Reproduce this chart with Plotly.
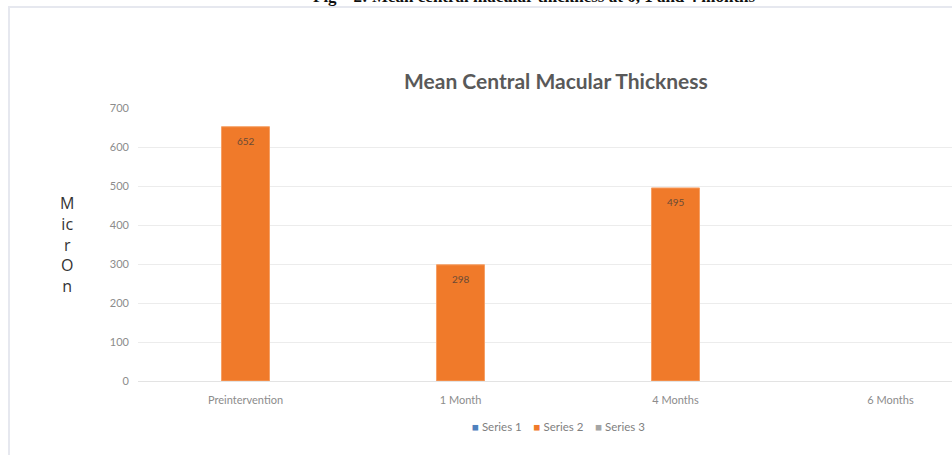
import plotly.graph_objects as go

categories = ["Preintervention", "1 Month", "4 Months", "6 Months"]
series_names = ["Series 1", "Series 2", "Series 3"]
series_colors = ["#4F81BD", "#F07A2A", "#A5A5A5"]
series1 = [None, None, None, None]
series2 = [652, 298, 495, None]
series3 = [None, None, None, None]
y_ticks = [0, 100, 200, 300, 400, 500, 600, 700]

L, R, T, B = 138, 0, 108, 74
W, H = 952, 455
pw, ph = W - L - R, H - T - B

def px_x(px):
    return (px - L) / pw

def px_y(py):
    return (H - B - py) / ph

fig = go.Figure()
for name, color, vals in zip(series_names, series_colors, [series1, series2, series3]):
    fig.add_trace(go.Bar(
        x=categories, y=vals, name=name,
        marker=dict(color=color, line=dict(color="#F6A066" if name == "Series 2" else color, width=1)),
        showlegend=False,
    ))

# data labels placed through the axes
for c, v in zip(categories, series2):
    if v is not None:
        fig.add_annotation(x=c, y=v, xref="x", yref="y", text=str(v), showarrow=False,
                           yshift=-14, font=dict(size=10, color="#6a4a36", family="Lato"))

fig.update_layout(
    width=W, height=H,
    margin=dict(l=L, r=R, t=T, b=B),
    paper_bgcolor="white", plot_bgcolor="white",
    barmode="group", bargap=0.33, bargroupgap=0,
    font=dict(family="Lato", color="#8c8c8c", size=10),
    showlegend=False,
    xaxis=dict(range=[-0.5, -0.5 + pw / 215.0], showgrid=False, showline=True,
               linecolor="#e3e3e3", linewidth=1, ticks="", ticklabelstandoff=9,
               tickfont=dict(size=11, color="#8c8c8c", family="Lato"), fixedrange=True),
    yaxis=dict(range=[0, 700], tickvals=y_ticks, showgrid=True, gridcolor="#ececec",
               gridwidth=1, zeroline=False, showline=False, ticks="", ticklabelstandoff=8,
               tickfont=dict(size=11, color="#8c8c8c", family="Lato")),
)

# outer chart border
fig.add_shape(type="rect", xref="paper", yref="paper",
              x0=px_x(9), x1=px_x(1000), y0=px_y(470), y1=px_y(7),
              line=dict(color="#e6e8ef", width=2), fillcolor="rgba(0,0,0,0)", layer="below")

# clipped caption at top
fig.add_annotation(text="<b>Fig – 2: Mean central macular thickness at 0, 1 and 4 months</b>",
                   xref="paper", yref="paper", x=px_x(534), y=px_y(8),
                   xanchor="center", yanchor="bottom", showarrow=False,
                   font=dict(family="Liberation Serif", size=17, color="#111111"))

# chart title
fig.add_annotation(text="<b>Mean Central Macular Thickness</b>",
                   xref="paper", yref="paper", x=px_x(556), y=px_y(81),
                   xanchor="center", yanchor="middle", showarrow=False,
                   font=dict(family="Lato", size=21, color="#595959"))

# stacked y-axis title
fig.add_annotation(text="M<br>ic<br>r<br>O<br>n",
                   xref="paper", yref="paper", x=px_x(67), y=px_y(244),
                   xanchor="center", yanchor="middle", showarrow=False, align="center",
                   font=dict(family="Open Sans", size=16, color="#333333"))

# legend
legend_text = "    ".join(
    f"<span style='color:{c}'>■</span> {n}" for n, c in zip(series_names, series_colors)
)
fig.add_annotation(text=legend_text, xref="paper", yref="paper", x=px_x(558), y=px_y(426),
                   xanchor="center", yanchor="middle", showarrow=False,
                   font=dict(size=11.5, color="#7f7f7f", family="Lato"))

fig.write_html("out.html")
